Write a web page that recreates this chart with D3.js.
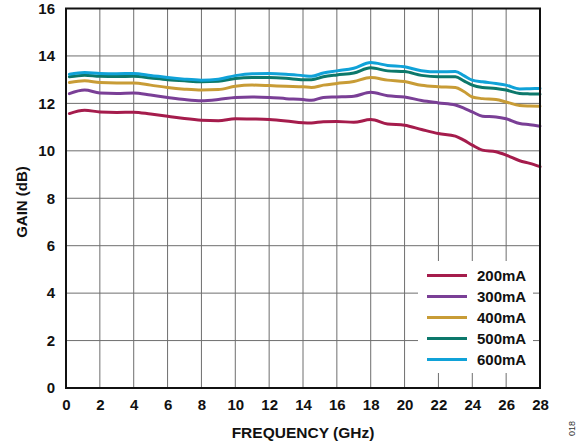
<!DOCTYPE html>
<html>
<head>
<meta charset="utf-8">
<script src="https://cdn.jsdelivr.net/npm/d3@7/dist/d3.min.js"></script>
<style>
  html, body { margin: 0; padding: 0; background: #fff; }
  svg { display: block; font-family: Arial, "Liberation Sans", sans-serif; }
</style>
</head>
<body>
<svg id="chart" width="587" height="446"></svg>
<script>
// Frequency points (GHz)
const freq = [0.2, 1.1, 2, 3, 4, 5, 6, 7, 8, 9, 10, 11, 12, 13, 14, 14.5, 15.2, 16, 17, 18, 19, 20, 21, 22, 23, 23.5, 24, 24.6, 25.4, 26, 26.8, 27.4, 28];

// Gain (dB) per bias current
const gain200 = [11.57, 11.71, 11.64, 11.62, 11.63, 11.55, 11.46, 11.36, 11.29, 11.27, 11.35, 11.34, 11.32, 11.26, 11.18, 11.17, 11.23, 11.24, 11.20, 11.32, 11.13, 11.08, 10.90, 10.73, 10.62, 10.45, 10.24, 10.03, 9.96, 9.82, 9.58, 9.47, 9.33];
const gain300 = [12.41, 12.56, 12.44, 12.42, 12.44, 12.35, 12.25, 12.16, 12.11, 12.16, 12.25, 12.27, 12.25, 12.20, 12.16, 12.13, 12.25, 12.27, 12.30, 12.47, 12.32, 12.27, 12.12, 12.02, 11.93, 11.80, 11.64, 11.46, 11.43, 11.35, 11.15, 11.10, 11.04];
const gain400 = [12.88, 12.95, 12.88, 12.86, 12.86, 12.77, 12.67, 12.60, 12.56, 12.58, 12.72, 12.77, 12.75, 12.72, 12.70, 12.67, 12.77, 12.84, 12.92, 13.09, 12.98, 12.92, 12.76, 12.70, 12.67, 12.50, 12.27, 12.20, 12.16, 12.06, 11.91, 11.89, 11.88];
const gain500 = [13.12, 13.19, 13.14, 13.13, 13.14, 13.07, 13.00, 12.95, 12.91, 12.93, 13.05, 13.09, 13.09, 13.06, 13.00, 13.00, 13.12, 13.20, 13.28, 13.50, 13.37, 13.34, 13.18, 13.12, 13.12, 12.95, 12.77, 12.67, 12.63, 12.56, 12.42, 12.40, 12.39];
const gain600 = [13.23, 13.30, 13.26, 13.25, 13.26, 13.18, 13.09, 13.02, 12.98, 13.02, 13.17, 13.25, 13.26, 13.23, 13.17, 13.14, 13.28, 13.37, 13.48, 13.72, 13.60, 13.54, 13.38, 13.33, 13.34, 13.17, 12.98, 12.91, 12.84, 12.77, 12.61, 12.62, 12.63];

const seriesNames = ["200mA", "300mA", "400mA", "500mA", "600mA"];
const seriesValues = [gain200, gain300, gain400, gain500, gain600];
const seriesColors = ["#a51c4c", "#7a3f96", "#c89c36", "#0c786b", "#10a2d8"];

const xTicks = [0, 2, 4, 6, 8, 10, 12, 14, 16, 18, 20, 22, 24, 26, 28];
const yTicks = [0, 2, 4, 6, 8, 10, 12, 14, 16];

const svg = d3.select("#chart");
const m = { left: 66, right: 540, top: 8.5, bottom: 388 };

const x = d3.scaleLinear().domain([0, 28]).range([m.left, m.right]);
const y = d3.scaleLinear().domain([0, 16]).range([m.bottom, m.top]);

// Grid
const grid = svg.append("g");
grid.selectAll("line.v").data(xTicks.slice(1, -1)).enter().append("line")
  .attr("x1", d => x(d)).attr("x2", d => x(d))
  .attr("y1", m.top).attr("y2", m.bottom)
  .attr("stroke", "#6e6e6e").attr("stroke-width", 1);
grid.selectAll("line.h").data(yTicks.slice(1, -1)).enter().append("line")
  .attr("x1", m.left).attr("x2", m.right)
  .attr("y1", d => y(d)).attr("y2", d => y(d))
  .attr("stroke", "#6e6e6e").attr("stroke-width", 1);

// Curves
const line = d3.line().x((d, i) => x(freq[i])).y(d => y(d)).curve(d3.curveMonotoneX);
seriesValues.forEach((vals, k) => {
  svg.append("path").datum(vals)
    .attr("d", line)
    .attr("fill", "none")
    .attr("stroke", seriesColors[k])
    .attr("stroke-width", 3)
    .attr("stroke-linejoin", "round")
    .attr("stroke-linecap", "round");
});

// Legend
const lg = svg.append("g");
lg.append("rect").attr("x", 418).attr("y", 261).attr("width", 115).attr("height", 112).attr("fill", "#fff");
seriesNames.forEach((name, k) => {
  const yy = 275.5 + k * 21;
  lg.append("line").attr("x1", 427).attr("x2", 467).attr("y1", yy).attr("y2", yy)
    .attr("stroke", seriesColors[k]).attr("stroke-width", 3);
  lg.append("text").attr("x", 477).attr("y", yy + 5.5)
    .attr("font-size", 15).attr("font-weight", "bold").attr("fill", "#111").text(name);
});

// Frame
svg.append("rect").attr("x", m.left).attr("y", m.top)
  .attr("width", m.right - m.left).attr("height", m.bottom - m.top)
  .attr("fill", "none").attr("stroke", "#111").attr("stroke-width", 2);

// Axes
const xAxis = svg.append("g").attr("transform", `translate(0,${m.bottom})`)
  .call(d3.axisBottom(x).tickValues(xTicks).tickSize(0).tickPadding(11).tickFormat(d3.format("d")));
const yAxis = svg.append("g").attr("transform", `translate(${m.left},0)`)
  .call(d3.axisLeft(y).tickValues(yTicks).tickSize(0).tickPadding(11).tickFormat(d3.format("d")));
[xAxis, yAxis].forEach(a => {
  a.select(".domain").remove();
  a.selectAll("text").attr("font-size", 15).attr("font-weight", "bold").attr("fill", "#111")
    .attr("font-family", "Arial, 'Liberation Sans', sans-serif");
});

// Axis titles
svg.append("text").attr("x", 303).attr("y", 438).attr("text-anchor", "middle")
  .attr("font-size", 15.5).attr("font-weight", "bold").attr("fill", "#111").text("FREQUENCY (GHz)");
svg.append("text").attr("transform", `translate(27,202) rotate(-90)`).attr("text-anchor", "middle")
  .attr("font-size", 15).attr("font-weight", "bold").attr("fill", "#111").text("GAIN (dB)");

// Figure number
svg.append("text").attr("transform", "translate(575,436) rotate(-90)")
  .attr("font-size", 9).attr("fill", "#333").text("018");
</script>
</body>
</html>
